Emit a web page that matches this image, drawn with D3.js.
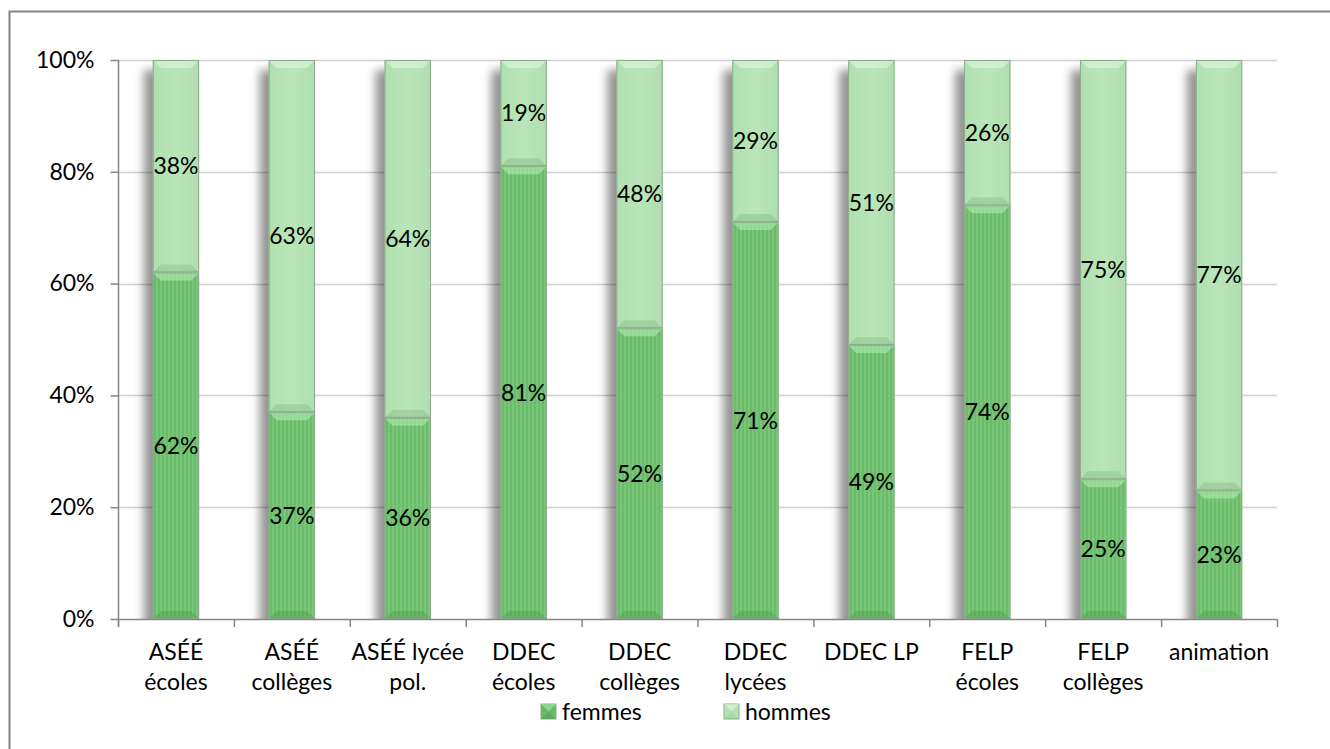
<!DOCTYPE html>
<html><head><meta charset="utf-8">
<script src="https://cdn.jsdelivr.net/npm/d3@7/dist/d3.min.js"></script>
<style>
html,body{margin:0;padding:0;background:#fff;}
svg{display:block;font-family:Lato,"Open Sans",sans-serif;font-weight:400;}
</style></head>
<body>
<svg id="chart" width="1330" height="749"></svg>
<script>
const categories = [["ASÉÉ","écoles"],["ASÉÉ","collèges"],["ASÉÉ lycée","pol."],["DDEC","écoles"],["DDEC","collèges"],["DDEC","lycées"],["DDEC LP"],["FELP","écoles"],["FELP","collèges"],["animation"]];
const femmes = [62,37,36,81,52,71,49,74,25,23];
const hommes = [38,63,64,19,48,29,51,26,75,77];
const yTicks = [0,0.2,0.4,0.6,0.8,1];
const seriesNames = ["femmes","hommes"];

const svg = d3.select("#chart");
const plot = {left:118, right:1277, top:60, bottom:619};

// outer frame
svg.append("rect").attr("x",9.5).attr("y",11.5).attr("width",1330).attr("height",800)
  .attr("fill","#fff").attr("stroke","#868686").attr("stroke-width",2);

const defs = svg.append("defs");
const pat = defs.append("pattern").attr("id","stripes").attr("patternUnits","userSpaceOnUse")
  .attr("width",4).attr("height",4);
pat.append("rect").attr("width",4).attr("height",4).attr("fill","#69bb69");
pat.append("rect").attr("width",2).attr("height",4).attr("fill","#79c679");
pat.append("rect").attr("width",4).attr("height",1).attr("fill","#74c374").attr("opacity",0.5);

defs.append("filter").attr("id","blur").attr("x","-50%").attr("y","-10%").attr("width","200%").attr("height","120%")
  .append("feGaussianBlur").attr("stdDeviation",5);
defs.append("clipPath").attr("id","plotclip").append("rect")
  .attr("x",plot.left+1).attr("y",plot.top).attr("width",plot.right-plot.left).attr("height",plot.bottom-plot.top);

const lightGrad = defs.append("linearGradient").attr("id","light").attr("x1","0").attr("x2","1");
lightGrad.append("stop").attr("offset","0").attr("stop-color","#b0e0b0");
lightGrad.append("stop").attr("offset","0.5").attr("stop-color","#b9e6b9");
lightGrad.append("stop").attr("offset","1").attr("stop-color","#b0deb0");

const keys = categories.map((c,i)=>"c"+i);
const x = d3.scaleBand().domain(keys).range([plot.left,plot.right]).paddingInner(0.6).paddingOuter(0.3);
const y = d3.scaleLinear().domain([0,1]).range([plot.bottom,plot.top]);

// gridlines
svg.append("g").selectAll("line").data(yTicks.filter(d=>d>0)).join("line")
  .attr("x1",plot.left).attr("x2",plot.right)
  .attr("y1",d=>Math.round(y(d))+0.5).attr("y2",d=>Math.round(y(d))+0.5)
  .attr("stroke","#d0d0d0").attr("stroke-width",1.5);

const data = keys.map((k,i)=>({k, f:femmes[i]/100, h:hommes[i]/100}));
const bw = x.bandwidth();

// shadows
svg.append("g").attr("clip-path","url(#plotclip)").selectAll("rect").data(data).join("rect")
  .attr("x",d=>x(d.k)-9).attr("y",plot.top+10).attr("width",bw).attr("height",plot.bottom-plot.top)
  .attr("fill","#000").attr("opacity",0.42).attr("filter","url(#blur)");

const bars = svg.append("g");
function seg(g, x0, y0, y1, fill, top, bot){
  g.append("rect").attr("x",x0).attr("y",y0).attr("width",bw).attr("height",y1-y0).attr("fill",fill);
  const b = 8;
  g.append("polygon").attr("points",[[x0,y0],[x0+bw,y0],[x0+bw-b,y0+b],[x0+b,y0+b]].map(p=>p.join(",")).join(" "))
    .attr("fill",top).attr("opacity",0.55);
  g.append("polygon").attr("points",[[x0,y1],[x0+bw,y1],[x0+bw-b,y1-b],[x0+b,y1-b]].map(p=>p.join(",")).join(" "))
    .attr("fill",bot).attr("opacity",0.3);
  g.append("rect").attr("x",x0+0.5).attr("y",y0+0.5).attr("width",bw-1).attr("height",y1-y0-1)
    .attr("fill","none").attr("stroke","#8fa98f").attr("stroke-width",1);
}
data.forEach(d=>{
  const g = bars.append("g");
  const x0 = x(d.k);
  seg(g, x0, y(d.f), y(0), "url(#stripes)", "#b8f0b8", "#3f8f3f");
  seg(g, x0, y(1), y(d.f), "url(#light)", "#e4f8e4", "#6fa86f");
});

// labels
const lab = svg.append("g").attr("font-size",23).attr("fill","#000").attr("text-anchor","middle");
data.forEach(d=>{
  const cx = x(d.k)+bw/2;
  lab.append("text").attr("x",cx).attr("y",(y(d.f)+y(0))/2).attr("dy","0.35em").text(d3.format(".0%")(d.f));
  lab.append("text").attr("x",cx).attr("y",(y(1)+y(d.f))/2).attr("dy","0.35em").text(d3.format(".0%")(d.h));
});

// y axis
const yAxis = svg.append("g").attr("transform",`translate(${plot.left+0.5},0)`)
  .call(d3.axisLeft(y).tickValues(yTicks).tickFormat(d3.format(".0%")).tickSize(8).tickPadding(16));
yAxis.selectAll("path,line").attr("stroke","#868686").attr("stroke-width",1.5);
yAxis.select(".domain").attr("d",`M0,${plot.top}V${plot.bottom+8}`);
yAxis.selectAll("text").attr("font-size",23).attr("font-family","Lato").attr("fill","#000");

// x axis
const xg = svg.append("g");
xg.append("line").attr("x1",plot.left).attr("x2",plot.right).attr("y1",plot.bottom+0.5).attr("y2",plot.bottom+0.5)
  .attr("stroke","#868686").attr("stroke-width",1.5);
xg.selectAll("line.t").data(d3.range(keys.length+1)).join("line").attr("class","t")
  .attr("x1",i=>plot.left+i*x.step()+0.5).attr("x2",i=>plot.left+i*x.step()+0.5)
  .attr("y1",plot.bottom).attr("y2",plot.bottom+8).attr("stroke","#868686").attr("stroke-width",1.5);
const xl = xg.append("g").attr("font-size",23).attr("text-anchor","middle");
data.forEach((d,i)=>{
  const t = xl.append("text").attr("x",x(d.k)+bw/2).attr("y",660);
  categories[i].forEach((line,j)=>t.append("tspan").attr("x",x(d.k)+bw/2).attr("dy",j?30:0).text(line));
});

// legend
const leg = svg.append("g").attr("font-size",23);
const legX = [541,724];
seriesNames.forEach((n,i)=>{
  const g = leg.append("g").attr("transform",`translate(${legX[i]},704)`);
  g.append("rect").attr("width",15).attr("height",15).attr("fill",i?"#b3e2b3":"#69bb69").attr("stroke","#8fa98f");
  g.append("polygon").attr("points","0,0 15,0 7.5,7.5").attr("fill",i?"#e0f6e0":"#a8e6a8").attr("opacity",0.6);
  g.append("polygon").attr("points","0,15 15,15 7.5,7.5").attr("fill",i?"#8fc08f":"#3f8f3f").attr("opacity",0.3);
  g.append("text").attr("x",21).attr("y",8).attr("dy","0.35em").text(n);
});
</script>
</body></html>
